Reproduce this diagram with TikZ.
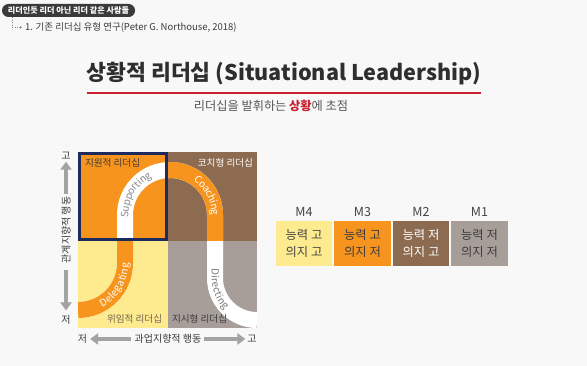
\documentclass[tikz,border=0pt]{standalone}
\usepackage{fontspec}
\setmainfont{Noto Sans CJK KR}
\usetikzlibrary{arrows.meta,decorations.text,calc}
\definecolor{bg}{HTML}{F8F8F8}
\definecolor{badgegray}{HTML}{3A3A3A}
\definecolor{darktext}{HTML}{3C3C3C}
\definecolor{titlegray}{HTML}{2E2E2E}
\definecolor{titlered}{HTML}{C8202F}
\definecolor{subgray}{HTML}{555555}
\definecolor{qorange}{HTML}{F7941D}
\definecolor{qbrown}{HTML}{8C6B50}
\definecolor{qyellow}{HTML}{FEEA8F}
\definecolor{qgray}{HTML}{A79E99}
\definecolor{navy}{HTML}{1C2A5E}
\definecolor{axgray}{HTML}{A3A3A3}
\definecolor{axtext}{HTML}{3A3A3A}
\definecolor{supgray}{HTML}{8A8A8A}
\definecolor{dirgray}{HTML}{7A7A7A}
\definecolor{yeltext}{HTML}{6E6450}
\definecolor{headgray}{HTML}{444444}
\begin{document}
\begin{tikzpicture}[x=1pt,y=-1pt,
  every node/.style={inner sep=0pt, outer sep=0pt},
  band/.style={line width=16pt, line cap=butt},
  qlabel/.style={font=\fontsize{9.6}{11}\selectfont},
  axarrow/.style={draw=axgray, line width=4pt, -{Triangle[width=11pt,length=8pt]}},
  axlab/.style={font=\fontsize{10}{12}\selectfont, text=axtext},
  mbox/.style={minimum width=56.5pt, minimum height=45pt, align=center, font=\fontsize{12.3}{17}\selectfont},
  mhead/.style={font=\fontsize{12.5}{14}\selectfont, text=headgray},
  bandtext/.style={decorate, decoration={text along path, text align=center, raise=-3.3pt}},
]
\useasboundingbox (0,0) rectangle (587,366);
\fill[bg] (0,0) rectangle (587,366);

% header
\node[fill=badgegray, rounded corners=6.5pt, minimum height=13pt, inner xsep=6pt, anchor=west, text=white, font=\bfseries\fontsize{8.1}{9}\selectfont] (badge) at (2,10.5) {리더인듯 리더 아닌 리더 같은 사람들};
\node[circle, fill=gray, minimum size=2.5pt] (bullet) at (20.5,27.5) {};
\node[anchor=west, font=\fontsize{9.5}{11}\selectfont, text=darktext] (subref) at (25,27.5) {1. 기존 리더십 유형 연구(Peter G. Northouse, 2018)};
\draw[dotted, gray, line width=0.6pt] ([xshift=10pt]badge.south west) |- (bullet.west);

% title
\node[anchor=base, font=\bfseries\fontsize{21.6}{25}\selectfont, text=titlegray] (title) at (284,81) {상황적 리더십 (Situational Leadership)};
\draw[titlered, line width=1.3pt] ([yshift=-7.5pt]title.south west) -- ([yshift=-7.5pt]title.south east);
\node[anchor=base, font=\fontsize{12.2}{14}\selectfont, text=subgray] (subtitle) at (271,110.5) {리더십을 발휘하는 {\bfseries\color{titlered}상황}에 초점};

% quadrants
\fill[qorange] (78,152) rectangle (168,241);
\fill[qbrown] (168,152) rectangle (257,241);
\fill[qyellow] (78,241) rectangle (168,328);
\fill[qgray] (168,241) rectangle (257,328);

\begin{scope}
\clip (78,152) rectangle (257,328);
\draw[band, white] (78,310) arc[start angle=90,end angle=0,radius=47] -- (125,215) arc[start angle=180,end angle=360,radius=45] -- (215,278) arc[start angle=180,end angle=90,radius=42];
\end{scope}
\begin{scope}
\clip (168,152) rectangle (257,241) (78,241) rectangle (168,328);
\draw[band, qorange] (78,310) arc[start angle=90,end angle=0,radius=47] -- (125,215) arc[start angle=180,end angle=360,radius=45] -- (215,278) arc[start angle=180,end angle=90,radius=42];
\end{scope}

\draw[navy, line width=3pt] (79.5,153.5) rectangle (166.5,239.5);

% band texts
\path[bandtext, decoration={text={|\fontsize{10}{12}\selectfont\color{supgray}|Supporting}}] (125,232) -- (125,215) arc[start angle=180,end angle=262,radius=45];
\path[bandtext, decoration={text={|\fontsize{10}{12}\selectfont\color{white}|Coaching}}] (170,215) ++(283:45) arc[start angle=283,end angle=360,radius=45] -- (215,232);
\path[bandtext, decoration={text={|\fontsize{10}{12}\selectfont\color{white}|Delegating}}] (78,263) ++(82:47) arc[start angle=82,end angle=0,radius=47] -- (125,246);
\path[bandtext, decoration={text={|\fontsize{10}{12}\selectfont\color{dirgray}|Directing}}] (215,250) -- (215,278) arc[start angle=180,end angle=110,radius=42];

% quadrant labels
\node[qlabel, anchor=west, text=darktext] (q1) at (85,163) {지원적 리더십};
\node[qlabel, anchor=east, text=white] (q2) at (253,163) {코치형 리더십};
\node[qlabel, anchor=west, text=yeltext] (q3) at (107,319) {위임적 리더십};
\node[qlabel, anchor=west, text=darktext] (q4) at (172,319) {지시형 리더십};

% axes
\node[axlab] (ytop) at (66,156) {고};
\node[axlab, rotate=90] (ylabel) at (66,230) {관계지향적 행동};
\node[axlab] (ybot) at (66,320) {저};
\draw[axarrow, shorten <=3pt, shorten >=2pt] (ylabel.east) -- (ytop.south);
\draw[axarrow, shorten <=7pt, shorten >=5pt] (ylabel.west) -- (ybot.north);

\node[axlab] (xlo) at (82.5,339) {저};
\node[axlab] (xlabel) at (168,339) {과업지향적 행동};
\node[axlab] (xhi) at (252,339) {고};
\draw[axarrow, shorten <=3.5pt, shorten >=3pt] (xlabel.west) -- (xlo.east);
\draw[axarrow, shorten <=3pt, shorten >=2pt] (xlabel.east) -- (xhi.west);

% maturity table
\node[mbox, fill=qyellow, text=headgray] (m4) at (304,243.5) {능력 고\\의지 고};
\node[mbox, fill=qorange, text=darktext] (m3) at (362.5,243.5) {능력 고\\의지 저};
\node[mbox, fill=qbrown, text=white] (m2) at (421,243.5) {능력 저\\의지 고};
\node[mbox, fill=qgray, text=darktext] (m1) at (479.5,243.5) {능력 저\\의지 저};
\node[mhead] (h4) at (304,212) {M4};
\node[mhead] (h3) at (362.5,212) {M3};
\node[mhead] (h2) at (421,212) {M2};
\node[mhead] (h1) at (479.5,212) {M1};
\end{tikzpicture}
\end{document}
